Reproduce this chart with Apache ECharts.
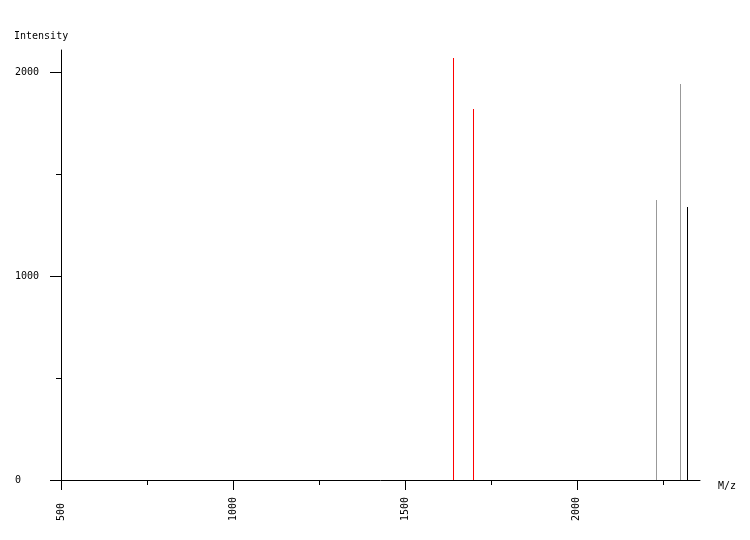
<!DOCTYPE html>
<html><head><meta charset="utf-8">
<script src="https://cdn.jsdelivr.net/npm/echarts@6/dist/echarts.min.js"></script>
<style>html,body{margin:0;padding:0;background:#fff}#c{width:750px;height:540px}</style>
</head><body><div id="c"></div>
<script>
// Peak data
const mz = [1640, 1698, 2230, 2300, 2320];
const intensity = [2069, 1819, 1373, 1941, 1338];
const peakColors = ['#ff0000', '#ff0000', '#999999', '#999999', '#000000'];
const xMajorTicks = [500, 1000, 1500, 2000];
const xMinorTicks = [750, 1250, 1750, 2250];
const xLabels = [500, 1000, 1500, 2000];
const yMajorTicks = [0, 1000, 2000];
const yMinorTicks = [500, 1500];
const yLabels = [0, 1000, 2000];

const font = 'DejaVu Sans Mono';
const xMin = 500, xMax = 2358, yMin = 0, yMax = 2108;
const chart = echarts.init(document.getElementById('c'), null, {renderer: 'canvas'});
const peaks = mz.map((x, i) => ({value: [x, intensity[i]], itemStyle: {color: peakColors[i]}}));
chart.setOption({
  animation: false,
  grid: {left: 61, right: 50, top: 50, bottom: 60},
  xAxis: [{
    type: 'value', min: xMin, max: xMax,
    splitLine: {show: false},
    axisLine: {onZero: false, lineStyle: {color: '#000', width: 1}},
    axisTick: {customValues: xMajorTicks, length: 10, lineStyle: {color: '#000'}},
    axisLabel: {customValues: xLabels, rotate: 90, align: 'left', margin: 41, color: '#000', fontFamily: font, fontSize: 10, formatter: v => String(v)}
  }, {
    type: 'value', min: xMin, max: xMax, position: 'bottom',
    splitLine: {show: false},
    axisLine: {show: false},
    axisTick: {customValues: xMinorTicks, length: 5, lineStyle: {color: '#000'}},
    axisLabel: {show: false}
  }],
  yAxis: [{
    type: 'value', min: yMin, max: yMax,
    splitLine: {show: false},
    axisLine: {show: true, lineStyle: {color: '#000', width: 1}},
    axisTick: {show: true, customValues: yMajorTicks, length: 11, lineStyle: {color: '#000'}},
    axisLabel: {customValues: yLabels, align: 'left', margin: 46, color: '#000', fontFamily: font, fontSize: 10, formatter: v => String(v)}
  }, {
    type: 'value', min: yMin, max: yMax, position: 'left',
    splitLine: {show: false},
    axisLine: {show: false},
    axisTick: {show: true, customValues: yMinorTicks, length: 5, lineStyle: {color: '#000'}},
    axisLabel: {show: false}
  }],
  graphic: [
    {type: 'text', left: 14, top: 31, style: {text: 'Intensity', fill: '#000', font: '10px ' + font}},
    {type: 'text', left: 718, top: 481, style: {text: 'M/z', fill: '#000', font: '10px ' + font}},
    {type: 'line', shape: {x1: 51, y1: 480.5, x2: 61, y2: 480.5}, style: {stroke: '#000', lineWidth: 1}}
  ],
  series: [{
    type: 'custom',
    xAxisIndex: 0, yAxisIndex: 0,
    data: peaks,
    silent: true,
    renderItem: function (params, api) {
      const top = api.coord([api.value(0), api.value(1)]);
      const bottom = api.coord([api.value(0), 0]);
      const px = Math.round(top[0]);
      const y1 = Math.round(top[1]);
      const y2 = Math.round(bottom[1]);
      return {
        type: 'rect',
        shape: {x: px, y: y1, width: 1, height: y2 - y1},
        style: {fill: api.visual('color')}
      };
    }
  }]
});
</script></body></html>
